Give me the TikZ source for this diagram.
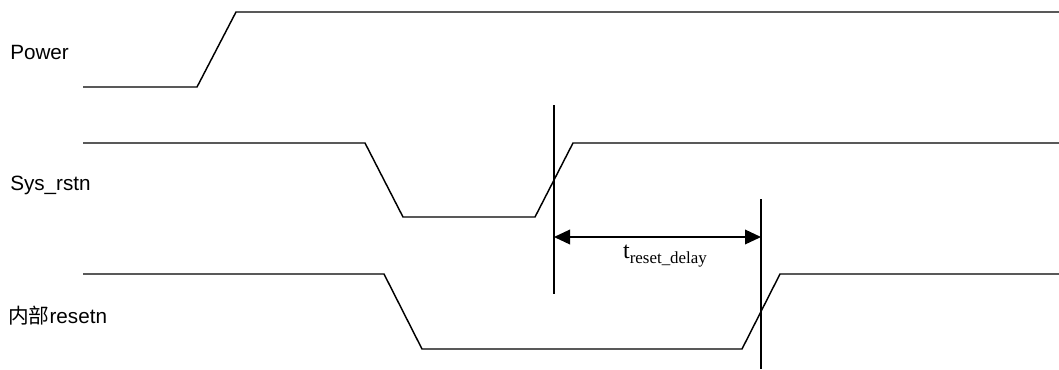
\documentclass[tikz,border=0pt]{standalone}
\usepackage{fontspec}
\setmainfont{Liberation Sans}
\newfontfamily\cjkfont{Noto Sans CJK SC}
\newfontfamily\timesfont{Liberation Serif}
\usetikzlibrary{arrows.meta}
\begin{document}
\begin{tikzpicture}[x=0.75pt,y=-0.75pt,
  wave/.style={line width=1.1pt, line join=miter},
  marker/.style={line width=1.1pt},
  dim/.style={line width=1.1pt, {Triangle[length=12pt,width=11pt]}-{Triangle[length=12pt,width=11pt]}},
  siglabel/.style={anchor=west, inner sep=0pt, font=\fontsize{15.5pt}{18pt}\selectfont}]
\useasboundingbox (0,0) rectangle (1059,369);
% labels
\node[siglabel] (lp) at (10,52) {Power};
\node[siglabel] (ls) at (10,185) {Sys\_rstn};
\node[siglabel] (lr) at (8,316) {{\cjkfont 内部}resetn};
% Power
\coordinate (p0) at (83,87); \coordinate (p1) at (197,87);
\coordinate (p2) at (236,12); \coordinate (p3) at (1059,12);
\draw[wave] (p0) -- (p1) -- (p2) -- (p3);
% Sys_rstn
\coordinate (s0) at (83,143); \coordinate (s1) at (365,143);
\coordinate (s2) at (403,217); \coordinate (s3) at (535,217);
\coordinate (s4) at (573,143); \coordinate (s5) at (1059,143);
\draw[wave] (s0) -- (s1) -- (s2) -- (s3) -- (s4) -- (s5);
% internal resetn
\coordinate (r0) at (83,274); \coordinate (r1) at (384,274);
\coordinate (r2) at (422,349); \coordinate (r3) at (742,349);
\coordinate (r4) at (780,274); \coordinate (r5) at (1059,274);
\draw[wave] (r0) -- (r1) -- (r2) -- (r3) -- (r4) -- (r5);
% markers
\coordinate (m1t) at (554,105); \coordinate (m1b) at (554,294);
\coordinate (m2t) at (761,199); \coordinate (m2b) at (761,369);
\draw[marker] (m1t) -- (m1b);
\draw[marker] (m2t) -- (m2b);
\coordinate (a1) at (554,237); \coordinate (a2) at (761,237);
\draw[dim] (a1) -- (a2);
\node[inner sep=0pt] (tl) at (665,256) {\timesfont\fontsize{18pt}{20pt}\selectfont t\raisebox{-3.5pt}{\fontsize{12.7pt}{14pt}\selectfont reset\_delay}};
\end{tikzpicture}
\end{document}
